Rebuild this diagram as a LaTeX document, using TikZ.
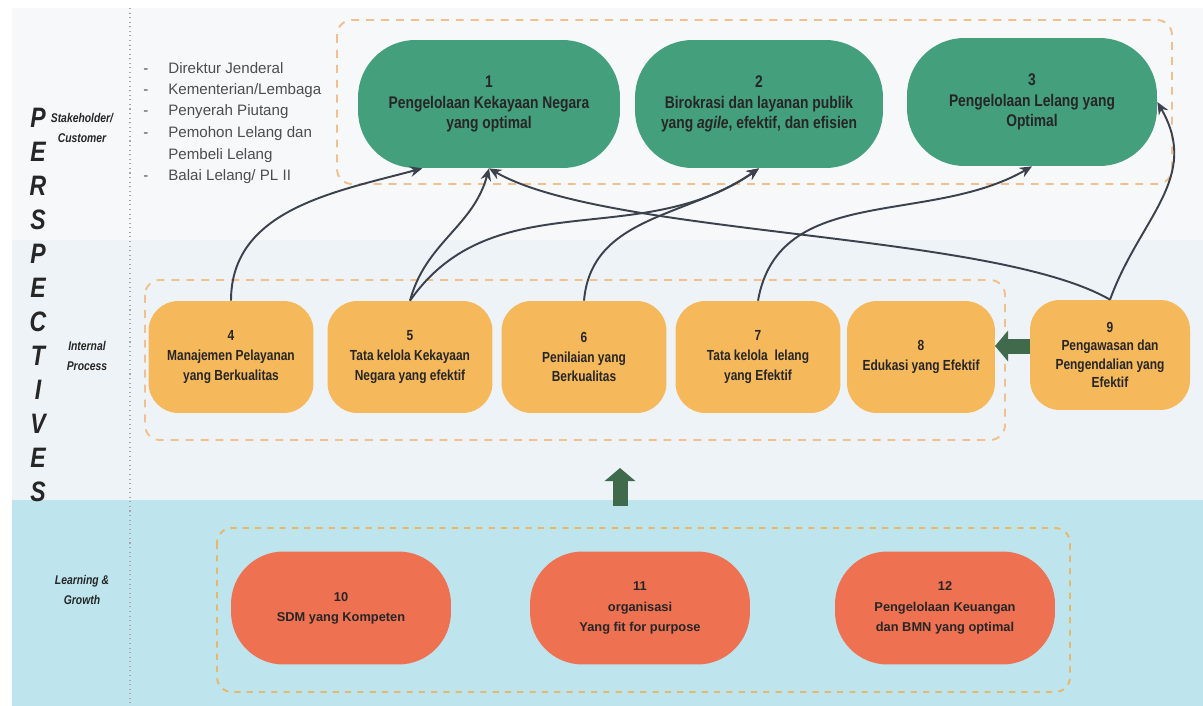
\documentclass[tikz,border=0pt]{standalone}
\usepackage{fontspec}
\setmainfont{Liberation Sans}
\newfontfamily\condfont{Liberation Sans}[FakeStretch=0.82]
\usetikzlibrary{arrows.meta}

\definecolor{goalgreen}{HTML}{449F7C}
\definecolor{procorange}{HTML}{F5B85A}
\definecolor{learnred}{HTML}{EE7152}
\definecolor{boxdash}{HTML}{F2C08E}
\definecolor{lowdash}{HTML}{E6B86C}
\definecolor{linkgray}{HTML}{3B424D}
\definecolor{blockgreen}{HTML}{3F6B4C}
\definecolor{bandtop}{HTML}{F6F8F9}
\definecolor{bandmid}{HTML}{EEF3F7}
\definecolor{bandlow}{HTML}{BEE5EE}
\definecolor{listgray}{HTML}{4D4D4D}
\definecolor{labeltext}{HTML}{262626}

\tikzset{
  goal/.style={fill=goalgreen, rounded corners=1.15cm, minimum width=5.2cm, minimum height=2.56cm,
    align=center, text=labeltext, font=\condfont\bfseries\fontsize{9.6}{11.5}\selectfont},
  proc/.style={fill=procorange, rounded corners=0.6cm, minimum width=3.3cm, minimum height=2.24cm,
    align=center, text=labeltext, font=\condfont\bfseries\fontsize{8.3}{11.2}\selectfont},
  learn/.style={fill=learnred, rounded corners=1.05cm, minimum width=4.4cm, minimum height=2.26cm,
    align=center, text=labeltext, font=\bfseries\fontsize{7.3}{11.5}\selectfont},
  groupbox/.style={draw=boxdash, line width=1.1pt, dash pattern=on 4.5pt off 4pt, rounded corners=0.3cm},
  link/.style={draw=linkgray, line width=1.1pt, -{Stealth[length=7pt,width=6pt]}},
  bigarrow/.style={draw=blockgreen, line width=0.3cm, -{Triangle[length=0.26cm,width=0.6cm]}},
  persp/.style={font=\condfont\bfseries\itshape\fontsize{16}{16}\selectfont, text=labeltext},
  side/.style={font=\condfont\bfseries\itshape\fontsize{7.2}{11}\selectfont, align=center, text=labeltext},
  listitem/.style={anchor=base west, font=\fontsize{8.6}{10}\selectfont, text=listgray, inner sep=0pt}
}

\begin{document}
\begin{tikzpicture}[x=0.02cm,y=-0.02cm]
	\useasboundingbox (0,0) rectangle (1203,706);

	% bands
	\fill[white] (0,0) rectangle (1203,706);
	\fill[bandtop] (12,8) rectangle (1203,240);
	\fill[bandmid] (12,240) rectangle (1203,500);
	\fill[bandlow] (12,500) rectangle (1203,706);
	\draw[gray!70, line width=0.6pt, dotted] (130,8) -- (130,706);

	% perspectives
	\foreach \l [count=\i from 0] in {P,E,R,S,P,E,C,T,I,V,E,S}
		\node[persp] (p\i) at (38,118+34*\i) {\l};
	\node[side] (sc) at (82,128) {Stakeholder/\\Customer};
	\node[side] (ip) at (87,356) {Internal\\Process};
	\node[side] (lg) at (82,590) {Learning \&\\Growth};

	% stakeholders
	\node[listitem] (d1) at (143,73) {-};
	\node[listitem] (d2) at (143,94) {-};
	\node[listitem] (d3) at (143,115) {-};
	\node[listitem] (d4) at (143,137) {-};
	\node[listitem] (d6) at (143,180) {-};
	\node[listitem] (s1) at (168,73) {Direktur Jenderal};
	\node[listitem] (s2) at (168,94) {Kementerian/Lembaga};
	\node[listitem] (s3) at (168,115) {Penyerah Piutang};
	\node[listitem] (s4) at (168,137) {Pemohon Lelang dan};
	\node[listitem] (s5) at (168,159) {Pembeli Lelang};
	\node[listitem] (s6) at (168,180) {Balai Lelang/ PL II};

	% groups
	\draw[groupbox] (337,20) rectangle (1172,184);
	\draw[groupbox] (145,280) rectangle (1005,440);
	\draw[groupbox, draw=lowdash, dash pattern=on 3.5pt off 3.5pt] (217,528) rectangle (1070,692);

	% stakeholder / customer
	\node[goal, minimum width=5.24cm] (n1) at (489,104) {1\\Pengelolaan Kekayaan Negara\\yang optimal};
	\node[goal, minimum width=4.96cm] (n2) at (759,104) {2\\Birokrasi dan layanan publik\\yang \textit{agile}, efektif, dan efisien};
	\node[goal, minimum width=5cm] (n3) at (1032,102) {3\\Pengelolaan Lelang yang\\Optimal};

	% internal process
	\node[proc] (n4) at (231,357) {4\\Manajemen Pelayanan\\yang Berkualitas};
	\node[proc] (n5) at (410,357) {5\\Tata kelola Kekayaan\\Negara yang efektif};
	\node[proc] (n6) at (584,357) {6\\Penilaian yang\\Berkualitas};
	\node[proc] (n7) at (758,357) {7\\Tata kelola\ \ lelang\\yang Efektif};
	\node[proc, minimum width=2.96cm] (n8) at (921,357) {8\\Edukasi yang Efektif};
	\node[proc, minimum width=3.2cm, minimum height=2.2cm, font=\condfont\bfseries\fontsize{8.3}{10.4}\selectfont] (n9) at (1110,355) {9\\Pengawasan dan\\Pengendalian yang\\Efektif};

	% learning & growth
	\node[learn] (n10) at (341,608) {10\\SDM yang Kompeten};
	\node[learn] (n11) at (640,608) {11\\organisasi\\Yang fit for purpose};
	\node[learn] (n12) at (945,608) {12\\Pengelolaan Keuangan\\dan BMN yang optimal};

	% block arrows
	\coordinate (la) at (995,346);
	\coordinate (ua0) at (620,506);
	\coordinate (ua) at (620,468);
	\draw[bigarrow] (n9.west |- la) -- (la);
	\draw[bigarrow] (ua0) -- (ua);

	% links
	\draw[link] (n4.north) to[out=90,in=195] (n1.224);
	\draw[link] (n5.north) to[out=75,in=255] (n1.south);
	\draw[link] (n5.north) to[out=55,in=215] (n2.south);
	\draw[link] (n6.north) to[out=85,in=215] (n2.south);
	\draw[link] (n7.north) to[out=80,in=210] (n3.south);
	\draw[link] (n9.north) to[out=150,in=-30,looseness=0.55] (n1.south);
	\draw[link] (n9.north) to[out=70,in=-60,looseness=1.1] (n3.east);
\end{tikzpicture}
\end{document}
